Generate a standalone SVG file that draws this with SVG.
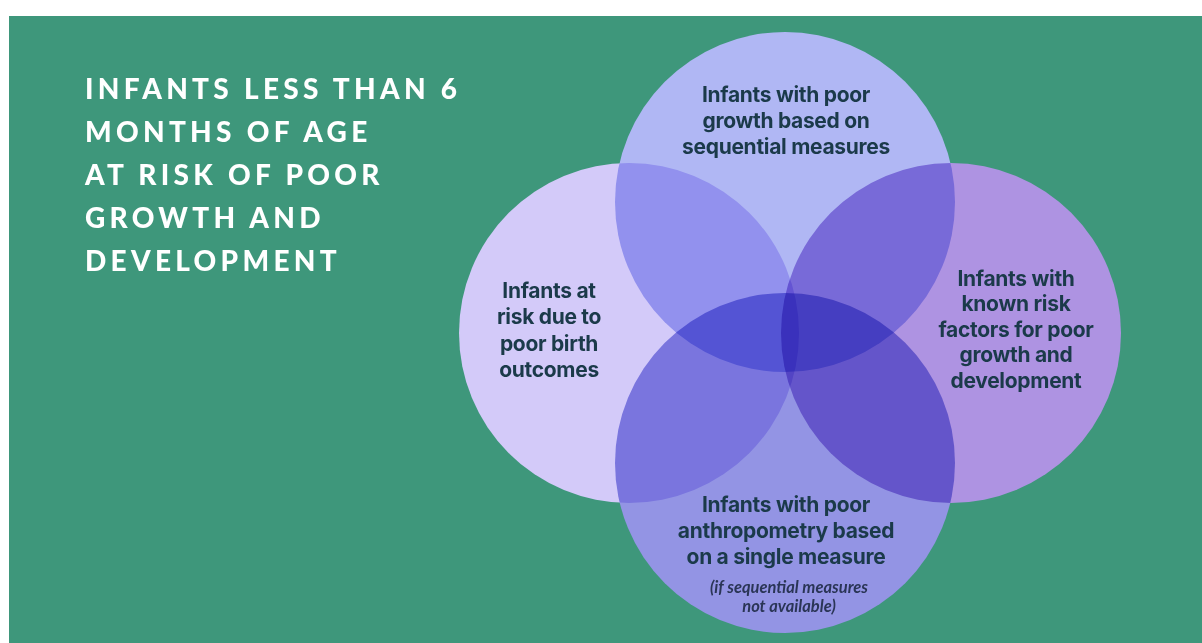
<svg xmlns="http://www.w3.org/2000/svg" width="1202" height="643" viewBox="0 0 1202 643">
<style>
.title{font-family:"Lato","Liberation Sans",sans-serif;font-weight:900;font-size:28px;letter-spacing:4.3px;fill:#ffffff;}
.lbl{font-family:"Inter","Roboto","Liberation Sans",sans-serif;font-weight:700;font-size:21px;fill:#1b3a4a;text-anchor:middle;letter-spacing:-0.3px;}
.note{font-family:"Lato","Liberation Sans",sans-serif;font-weight:700;font-style:italic;font-size:16.5px;fill:#2a3556;text-anchor:middle;}
.c{mix-blend-mode:multiply;}
</style>
<rect x="0" y="0" width="1202" height="643" fill="#ffffff"/>
<rect x="9" y="16" width="1193" height="627" fill="#3e977b"/>
<g id="title">
<text class="title" x="85" y="99">INFANTS LESS THAN 6</text>
<text class="title" x="85" y="142">MONTHS OF AGE</text>
<text class="title" x="85" y="185">AT RISK OF POOR</text>
<text class="title" x="85" y="228">GROWTH AND</text>
<text class="title" x="85" y="271">DEVELOPMENT</text>
</g>
<g id="circles" style="isolation:isolate">
<circle id="circle-left" class="c" cx="629" cy="333" r="170" fill="#d3caf9"/>
<circle id="circle-top" class="c" cx="785" cy="202" r="170" fill="#b0b7f4"/>
<circle id="circle-right" class="c" cx="951" cy="333" r="170" fill="#ae93e2"/>
<circle id="circle-bottom" class="c" cx="785" cy="463" r="170" fill="#9394e4"/>
</g>
<g id="node-top">
<text class="lbl" x="786" y="102">Infants with poor</text>
<text class="lbl" x="786" y="128">growth based on</text>
<text class="lbl" x="786" y="154">sequential measures</text>
</g>
<g id="node-left">
<text class="lbl" x="549" y="298">Infants at</text>
<text class="lbl" x="549" y="324">risk due to</text>
<text class="lbl" x="549" y="351">poor birth</text>
<text class="lbl" x="549" y="377">outcomes</text>
</g>
<g id="node-right">
<text class="lbl" x="1016" y="286">Infants with</text>
<text class="lbl" x="1016" y="311">known risk</text>
<text class="lbl" x="1016" y="337">factors for poor</text>
<text class="lbl" x="1016" y="362">growth and</text>
<text class="lbl" x="1016" y="388">development</text>
</g>
<g id="node-bottom">
<text class="lbl" x="786" y="512">Infants with poor</text>
<text class="lbl" x="786" y="538">anthropometry based</text>
<text class="lbl" x="786" y="564">on a single measure</text>
<text class="note" x="789" y="593">(if sequential measures</text>
<text class="note" x="789" y="612">not available)</text>
</g>
<g id="connectors"/>
</svg>
